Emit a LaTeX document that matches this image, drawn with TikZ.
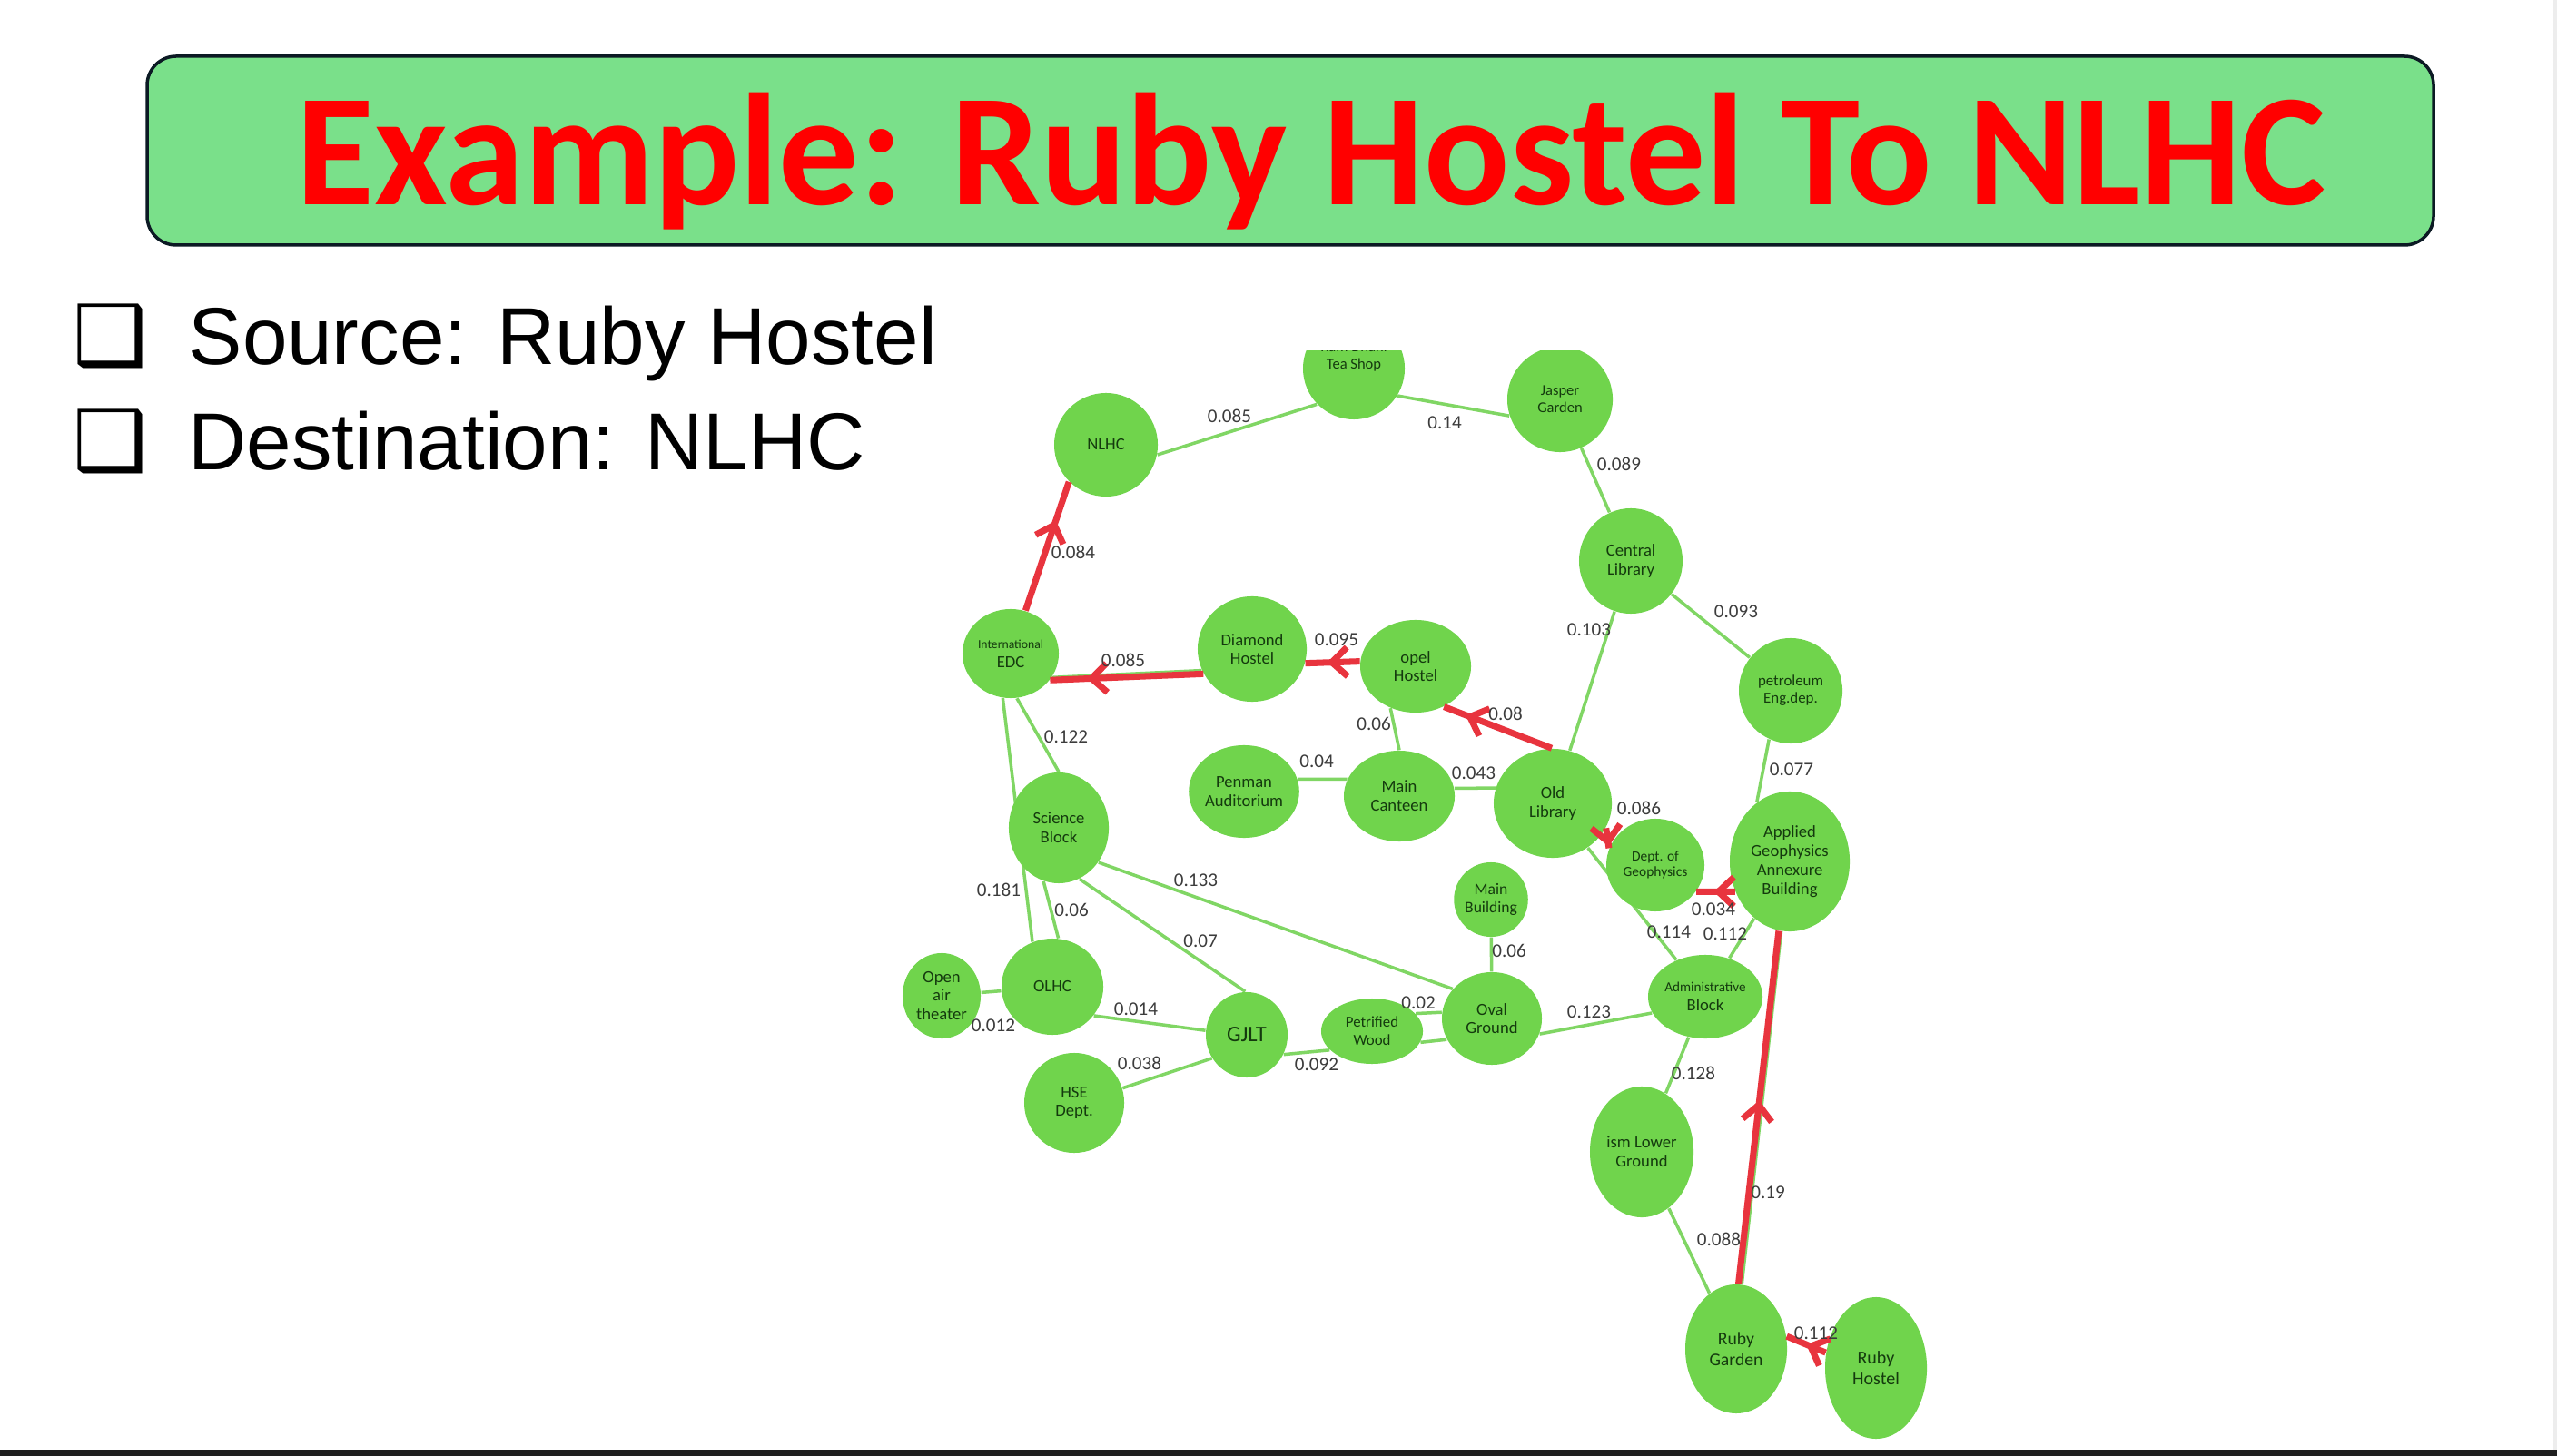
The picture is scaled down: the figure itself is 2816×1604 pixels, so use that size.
\documentclass[tikz,border=0pt]{standalone}
\usepackage{fontspec}
\setmainfont{Carlito}
\newfontfamily\listfont{Liberation Sans}
\newfontfamily\dingfont{DejaVu Sans}
\usepackage{tikz}
\usetikzlibrary{arrows.meta,positioning,shapes.geometric,decorations.markings}

\definecolor{spotgreen}{RGB}{112,212,76}
\definecolor{linkgreen}{RGB}{128,214,100}
\definecolor{spottext}{RGB}{20,58,14}
\definecolor{routered}{RGB}{232,52,62}
\definecolor{weightgray}{RGB}{60,60,60}
\definecolor{bannerfill}{RGB}{122,224,138}
\definecolor{bannerline}{RGB}{12,26,36}
\definecolor{titlered}{RGB}{255,0,0}

\pgfdeclarelayer{background}
\pgfsetlayers{background,main}

\begin{document}
\begin{tikzpicture}[
  x=0.01cm, y=-0.01cm,
  spot/.style 2 args={ellipse, fill=spotgreen, inner sep=0pt, text=spottext,
    minimum width=#1, minimum height=#2, align=center,
    font=\fontsize{5.3}{5.9}\selectfont},
  link/.style={draw=linkgreen, line width=1pt},
  route/.style={draw=routered, line width=2pt, postaction={decorate},
    decoration={markings, mark=at position #1 with
      {\arrow{Straight Barb[length=0.17cm, width=0.32cm]}}}},
  route/.default=0.5,
  weight/.style={text=weightgray, inner sep=0pt, font=\fontsize{6}{6}\selectfont},
  banner/.style={fill=bannerfill, draw=bannerline, line width=0.035cm,
    rounded corners=0.32cm},
  heading/.style={text=titlered, inner sep=0pt,
    font=\fontsize{50}{50}\selectfont\bfseries},
  listitem/.style={inner sep=0pt, font=\listfont\fontsize{25.3}{30}\selectfont},
  bulletbox/.style={inner sep=0pt, font=\dingfont\fontsize{26}{30}\selectfont}
]
  \useasboundingbox (0,0) rectangle (2816,1604);
  \begin{pgfonlayer}{background}
    \fill[white] (0,0) rectangle (2816,1604);
  \end{pgfonlayer}
  \fill[black!7] (2812,0) rectangle (2816,1597);
  \fill[black!88] (0,1597) rectangle (2816,1604);

  % title bar
  \draw[banner] (162,62) rectangle (2680,270);
  \node[heading, anchor=base] (heading) at (1444,226) {Example: Ruby Hostel To NLHC};

  % source and destination
  \node[bulletbox, anchor=base west] (box1) at (80,402) {❑};
  \node[listitem, anchor=base west] (src) at (207,402) {Source: Ruby Hostel};
  \node[bulletbox, anchor=base west] (box2) at (80,518) {❑};
  \node[listitem, anchor=base west] (dst) at (207,518) {Destination: NLHC};

  \begin{scope}
    \clip (560,387) rectangle (2300,1597);

    % places
    \node[spot={1.14cm}{1.14cm}] (nlhc) at (1218,490) {NLHC};
    \node[spot={1.12cm}{1.12cm}, font=\fontsize{4.7}{5.4}\selectfont,
      text depth=0.3cm] (teashop) at (1491,406) {Ram Dhani\\Tea Shop};
    \node[spot={1.16cm}{1.16cm}, font=\fontsize{4.7}{5.4}\selectfont] (jasper) at (1718,440) {Jasper\\Garden};
    \node[spot={1.14cm}{1.16cm}] (cenlib) at (1796,618) {Central\\Library};
    \node[spot={1.14cm}{1.16cm}, font=\fontsize{4.8}{5.4}\selectfont] (petro) at (1972,761) {petroleum\\Eng.dep.};
    \node[spot={1.32cm}{1.54cm}, font=\fontsize{5.3}{6}\selectfont] (annexe) at (1971,949) {Applied\\Geophysics\\Annexure\\Building};
    \node[spot={1.06cm}{0.98cm}] (edc) at (1113,720) {{\fontsize{3.9}{4.2}\selectfont International}\\EDC};
    \node[spot={1.2cm}{1.16cm}] (diamond) at (1379,715) {Diamond\\Hostel};
    \node[spot={1.22cm}{1.02cm}] (opel) at (1559,734) {opel\\Hostel};
    \node[spot={1.2cm}{1.02cm}] (penman) at (1370,872) {Penman\\Auditorium};
    \node[spot={1.22cm}{1.0cm}] (canteen) at (1541,877) {Main\\Canteen};
    \node[spot={1.3cm}{1.2cm}] (oldlib) at (1710,885) {Old\\Library};
    \node[spot={1.08cm}{1.02cm}, font=\fontsize{4.4}{5}\selectfont] (deptgeo) at (1823,953) {Dept. of\\Geophysics};
    \node[spot={0.8cm}{0.82cm}, font=\fontsize{5}{5.8}\selectfont] (mainbld) at (1642,991) {Main\\Building};
    \node[spot={1.1cm}{1.22cm}] (science) at (1166,912) {Science\\Block};
    \node[spot={1.12cm}{1.06cm}] (olhc) at (1159,1087) {OLHC};
    \node[spot={0.86cm}{0.94cm}] (openair) at (1037,1097) {Open\\air\\theater};
    \node[spot={0.9cm}{0.94cm}, font=\fontsize{7}{7}\selectfont] (gjlt) at (1373,1140) {GJLT};
    \node[spot={1.12cm}{0.72cm}, font=\fontsize{4.8}{5.6}\selectfont] (petrified) at (1511,1136) {Petrified\\Wood};
    \node[spot={1.1cm}{1.02cm}] (oval) at (1643,1122) {Oval\\Ground};
    \node[spot={1.1cm}{1.1cm}] (hse) at (1183,1215) {HSE\\Dept.};
    \node[spot={1.26cm}{0.92cm}] (admin) at (1878,1098) {{\fontsize{4.3}{4.6}\selectfont Administrative}\\Block};
    \node[spot={1.14cm}{1.44cm}] (ismlower) at (1808,1269) {ism Lower\\Ground};
    \node[spot={1.12cm}{1.42cm}, font=\fontsize{5.6}{6.6}\selectfont] (rgarden) at (1912,1486) {Ruby\\Garden};
    \node[spot={1.12cm}{1.56cm}, font=\fontsize{5.7}{6.6}\selectfont] (rhostel) at (2066,1507) {Ruby\\Hostel};

    % paths between places
    \begin{pgfonlayer}{background}
      \draw[link] (nlhc.349) -- (teashop.224);
      \draw[link] (teashop.328) -- (jasper.198);
      \draw[link] (jasper) -- (cenlib);
      \draw[link] (cenlib) -- (petro);
      \draw[link] (cenlib) -- (oldlib);
      \draw[link] (petro.246) -- (annexe.119);
      \draw[link] (edc.330) -- (diamond.203);
      \draw[link] (opel.239) -- (canteen.90);
      \draw[link] (penman.13) -- (canteen.162);
      \draw[link] (canteen.8) -- (oldlib.165);
      \draw[link] (oldlib) -- (admin);
      \draw[link] (annexe) -- (admin);
      \draw[link] (rgarden.85) -- (annexe.263);
      \draw[link] (ismlower) -- (admin);
      \draw[link] (ismlower) -- (rgarden);
      \draw[link] (oval.342) -- (admin.197);
      \draw[link] (edc.278) -- (science.90);
      \draw[link] (edc.260) -- (olhc.114);
      \draw[link] (science.254) -- (olhc.83);
      \draw[link] (science.292) -- (gjlt.92);
      \draw[link] (science.319) -- (oval.143);
      \draw[link] (openair) -- (olhc);
      \draw[link] (olhc.325) -- (gjlt.174);
      \draw[link] (hse.17) -- (gjlt.214);
      \draw[link] (gjlt.332) -- (petrified.204);
      \draw[link] (petrified.22) -- (oval.173);
      \draw[link] (petrified.347) -- (oval.205);
      \draw[link] (mainbld) -- (oval);
    \end{pgfonlayer}

    % shortest route
    \draw[route=0.7] (edc.71) -- (nlhc.225);
    \draw[route=0.76] (diamond.207) -- (edc.326);
    \draw[route=0.6] (opel.175) -- (diamond.345);
    \draw[route=0.8] (oldlib.91) -- (opel.305);
    \draw[route=0.9] (oldlib.335) -- (deptgeo.160);
    \draw[route=0.55] (annexe.209) -- (deptgeo.327);
    \draw[route=0.52] (rgarden.88) -- (annexe.261);
    \draw[route=0.5] (rhostel.163) -- (rgarden.14);
  \end{scope}

  % distances
  \node[weight] (w-nlhc-tea) at (1354,458) {0.085};
  \node[weight] (w-tea-jasper) at (1591,466) {0.14};
  \node[weight] (w-jasper-cenlib) at (1783,511) {0.089};
  \node[weight] (w-cenlib-petro) at (1912,674) {0.093};
  \node[weight] (w-cenlib-oldlib) at (1750,694) {0.103};
  \node[weight] (w-petro-annexe) at (1973,848) {0.077};
  \node[weight] (w-edc-nlhc) at (1182,608) {0.084};
  \node[weight] (w-diamond-edc) at (1237,727) {0.085};
  \node[weight] (w-opel-diamond) at (1472,705) {0.095};
  \node[weight] (w-oldlib-opel) at (1658,786) {0.08};
  \node[weight] (w-opel-canteen) at (1513,797) {0.06};
  \node[weight] (w-edc-science) at (1174,812) {0.122};
  \node[weight] (w-penman-canteen) at (1450,839) {0.04};
  \node[weight] (w-canteen-oldlib) at (1623,852) {0.043};
  \node[weight] (w-oldlib-deptgeo) at (1805,890) {0.086};
  \node[weight] (w-annexe-deptgeo) at (1887,1002) {0.034};
  \node[weight] (w-oldlib-admin) at (1838,1027) {0.114};
  \node[weight] (w-annexe-admin) at (1900,1029) {0.112};
  \node[weight] (w-edc-olhc) at (1100,980) {0.181};
  \node[weight] (w-science-olhc) at (1180,1002) {0.06};
  \node[weight] (w-science-oval) at (1317,970) {0.133};
  \node[weight] (w-science-gjlt) at (1322,1037) {0.07};
  \node[weight] (w-mainbld-oval) at (1662,1047) {0.06};
  \node[weight] (w-olhc-gjlt) at (1251,1112) {0.014};
  \node[weight] (w-openair-olhc) at (1094,1130) {0.012};
  \node[weight] (w-petrified-oval) at (1562,1105) {0.02};
  \node[weight] (w-oval-admin) at (1750,1115) {0.123};
  \node[weight] (w-hse-gjlt) at (1255,1171) {0.038};
  \node[weight] (w-gjlt-petrified) at (1450,1173) {0.092};
  \node[weight] (w-ismlower-admin) at (1865,1182) {0.128};
  \node[weight] (w-rgarden-annexe) at (1947,1314) {0.19};
  \node[weight] (w-ismlower-rgarden) at (1893,1365) {0.088};
  \node[weight] (w-rhostel-rgarden) at (2000,1469) {0.112};
\end{tikzpicture}
\end{document}
